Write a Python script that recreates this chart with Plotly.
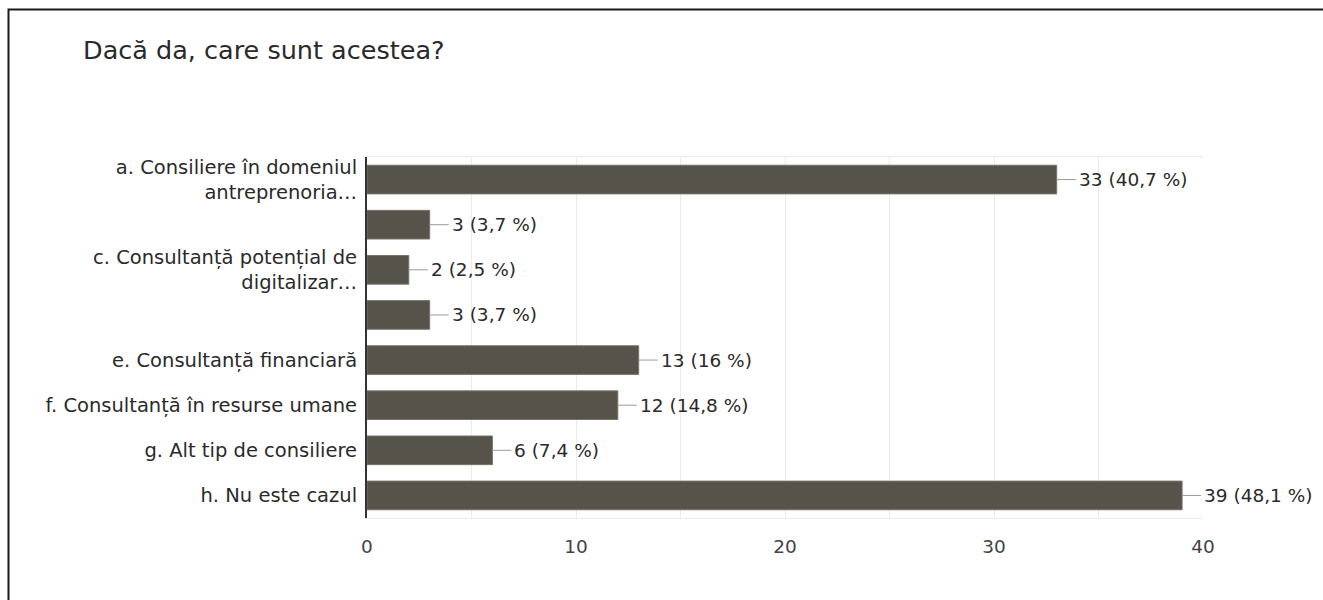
import plotly.graph_objects as go

# Survey answers (top to bottom) and their response counts
categories = [
    "a. Consiliere în domeniul<br>antreprenoria…",
    "",
    "c. Consultanță potențial de<br>digitalizar…",
    "",
    "e. Consultanță financiară",
    "f. Consultanță în resurse umane",
    "g. Alt tip de consiliere",
    "h. Nu este cazul",
]
counts = [33, 3, 2, 3, 13, 12, 6, 39]
percents = ["40,7", "3,7", "2,5", "3,7", "16", "14,8", "7,4", "48,1"]
x_ticks = [0, 10, 20, 30, 40]

title_text = "Dacă da, care sunt acestea?"

W, H = 1323, 600
L, R, T, B = 367, 120, 157, 82
FONT = "DejaVu Sans"
BAR_COLOR = "#56534a"

positions = list(range(len(categories)))

fig = go.Figure()
fig.add_trace(go.Bar(
    x=counts,
    y=positions,
    orientation="h",
    marker=dict(color=BAR_COLOR, line=dict(color="#77746c", width=1)),
    hoverinfo="skip",
))

# value labels with short leader lines
for pos, c, p in zip(positions, counts, percents):
    fig.add_shape(
        type="line", xref="x", yref="y",
        xsizemode="pixel", xanchor=c, x0=0, x1=19,
        y0=pos, y1=pos,
        line=dict(color="#9a9a9a", width=1),
    )
    fig.add_annotation(
        x=c, y=pos, xref="x", yref="y",
        text=f"{c} ({p} %)", showarrow=False,
        xanchor="left", yanchor="middle", xshift=20,
        font=dict(family=FONT, size=18.5, color="#2a2a2a"),
    )

# outer frame: top and left edges as one open path
pw = W - L - R
ph = H - T - B
def px_to_paper_x(px):
    return (px - L) / pw
def px_to_paper_y(py):
    return (H - B - py) / ph

frame_path = "M {:.5f},{:.5f} L {:.5f},{:.5f} L {:.5f},{:.5f}".format(
    px_to_paper_x(8.5), px_to_paper_y(H + 2),
    px_to_paper_x(8.5), px_to_paper_y(9.5),
    px_to_paper_x(W + 2), px_to_paper_y(9.5),
)
fig.add_shape(type="path", xref="paper", yref="paper", path=frame_path,
              line=dict(color="#1a1a1a", width=2), fillcolor="rgba(0,0,0,0)")

fig.add_annotation(
    xref="paper", yref="paper",
    x=px_to_paper_x(81), y=px_to_paper_y(50),
    text=title_text, showarrow=False,
    xanchor="left", yanchor="middle",
    font=dict(family=FONT, size=25.5, color="#2a2a2a"),
)

fig.update_layout(
    width=W, height=H,
    margin=dict(l=L, r=R, t=T, b=B, autoexpand=False),
    paper_bgcolor="white",
    plot_bgcolor="white",
    showlegend=False,
    bargap=0.365,
    font=dict(family=FONT, size=19, color="#2a2a2a"),
    xaxis=dict(
        range=[0, 40],
        tickvals=x_ticks,
        ticktext=[str(v) for v in x_ticks],
        showgrid=True, gridcolor="#ebebeb", gridwidth=1,
        minor=dict(dtick=5, showgrid=True, gridcolor="#ebebeb", gridwidth=1),
        zeroline=False,
        showline=True, mirror=True, linecolor="#ebebeb", linewidth=1,
        ticks="", ticklabelstandoff=12,
        tickfont=dict(family=FONT, size=18.5, color="#444444"),
        fixedrange=True,
    ),
    yaxis=dict(
        range=[7.5, -0.5],
        tickvals=positions,
        ticktext=categories,
        showgrid=False, zeroline=False,
        showline=True, linecolor="#333333", linewidth=2,
        ticks="", ticklabelstandoff=4,
        tickfont=dict(family=FONT, size=19.5, color="#2a2a2a"),
        fixedrange=True,
    ),
)

fig.write_html("out.html", config={"displayModeBar": False})
